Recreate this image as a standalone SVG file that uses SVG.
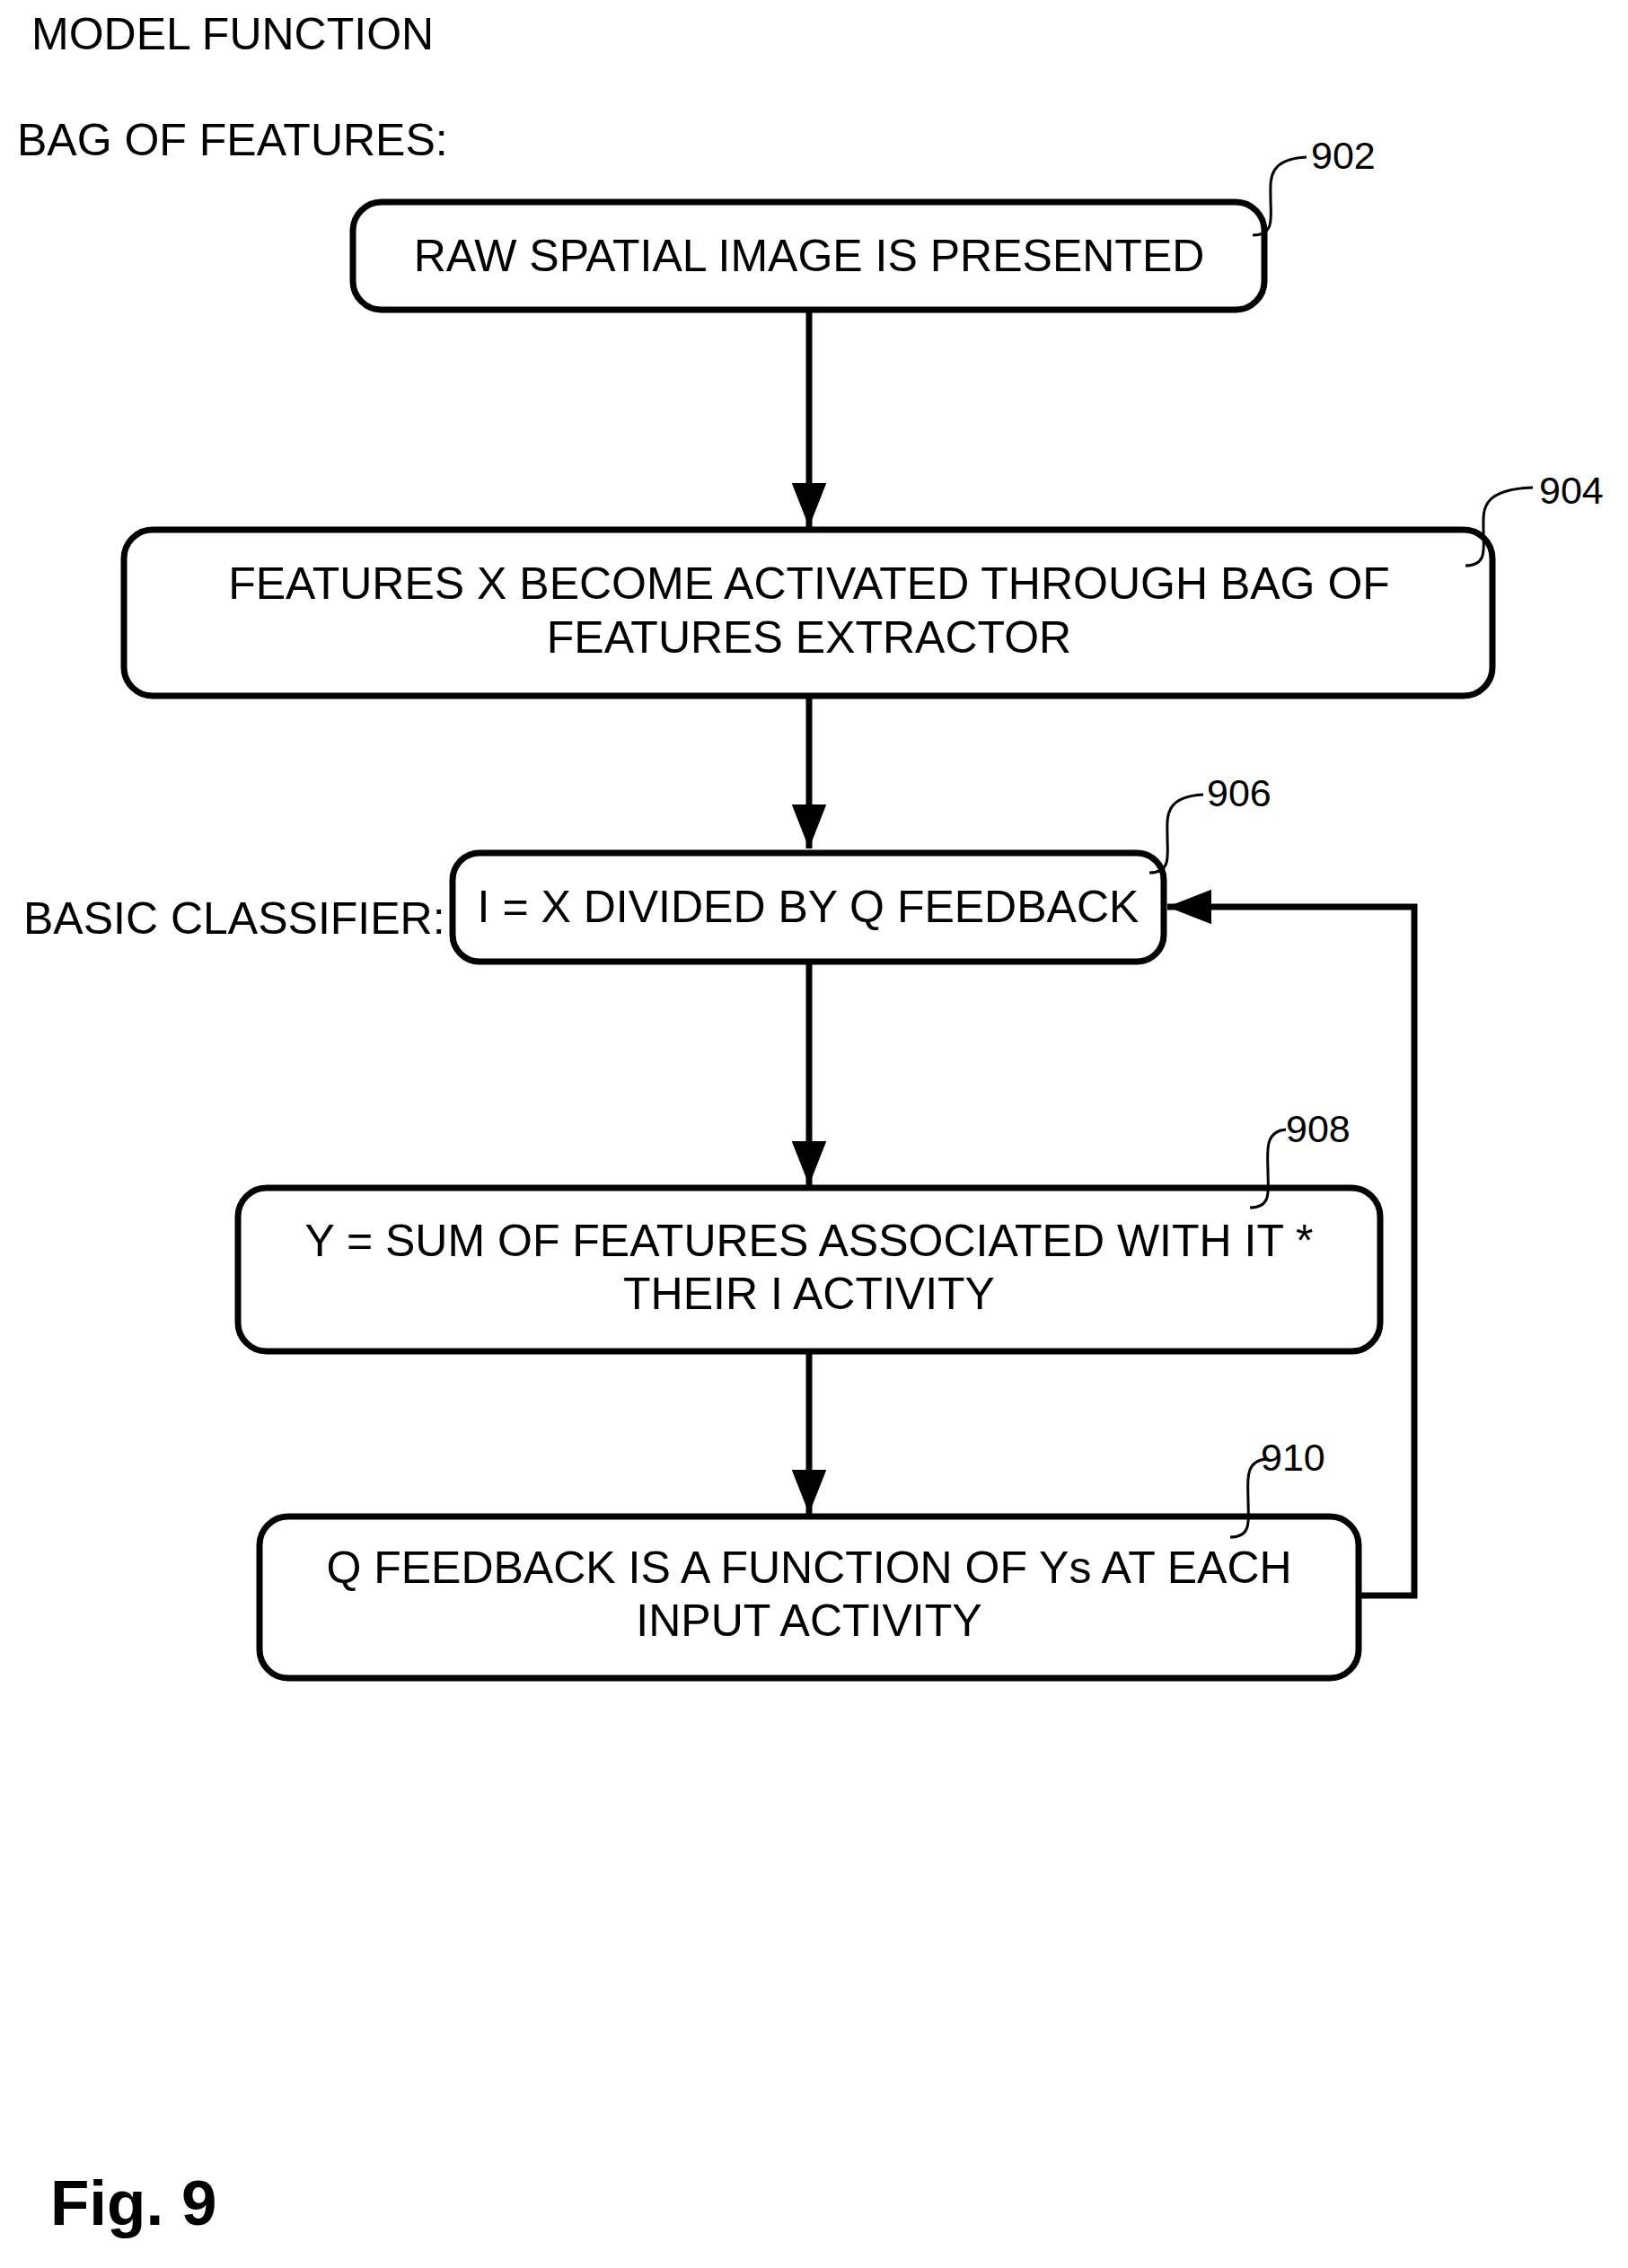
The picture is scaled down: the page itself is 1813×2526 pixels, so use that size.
<svg xmlns="http://www.w3.org/2000/svg" width="1813" height="2526" viewBox="0 0 1813 2526">
<style>
text{font-family:"Liberation Sans",Arial,sans-serif;fill:#000}
.t{font-size:50px;text-anchor:middle}
.h{font-size:50px}
.n{font-size:43px}
.b{fill:#fff;stroke:#000;stroke-width:7}
.c{fill:none;stroke:#000;stroke-width:7}
.l{fill:none;stroke:#000;stroke-width:3}
</style>
<defs><marker id="a" markerWidth="7" markerHeight="5.5" refX="7" refY="2.75" orient="auto" markerUnits="strokeWidth"><path d="M0,0L7,2.75L0,5.5z" fill="#000"/></marker></defs>
<rect width="1813" height="2526" fill="#fff"/>
<text class="h" x="35" y="55">MODEL FUNCTION</text>
<text class="h" x="19" y="173">BAG OF FEATURES:</text>
<text class="h" x="26" y="1040">BASIC CLASSIFIER:</text>
<text x="56" y="2478" style="font-size:71px;font-weight:bold">Fig. 9</text>
<g id="connectors">
<path class="c" d="M901,345V587" marker-end="url(#a)"/>
<path class="c" d="M901,775V945" marker-end="url(#a)"/>
<path class="c" d="M901,1071V1320" marker-end="url(#a)"/>
<path class="c" d="M901,1505V1686" marker-end="url(#a)"/>
<path class="c" d="M1513,1777H1575V1010H1300" marker-end="url(#a)"/>
</g>
<g id="n902"><rect class="b" x="393" y="225" width="1015" height="120" rx="32"/><text class="t" x="901" y="302">RAW SPATIAL IMAGE IS PRESENTED</text>
<path class="l" d="M1395,262c25,0,20,-20,20,-40s-5,-45,40,-47"/><text class="n" x="1460" y="188">902</text></g>
<g id="n904"><rect class="b" x="138" y="590" width="1524" height="185" rx="32"/><text class="t" x="901" y="667">FEATURES X BECOME ACTIVATED THROUGH BAG OF</text><text class="t" x="901" y="727">FEATURES EXTRACTOR</text>
<path class="l" d="M1632,630c25,0,20,-20,20,-40s-5,-45,55,-47"/><text class="n" x="1714" y="561">904</text></g>
<g id="n906"><rect class="b" x="504" y="950" width="792" height="121" rx="30"/><text class="t" x="900" y="1027">I = X DIVIDED BY Q FEEDBACK</text>
<path class="l" d="M1280,972c25,0,20,-20,20,-40s-5,-45,40,-47"/><text class="n" x="1344" y="898">906</text></g>
<g id="n908"><rect class="b" x="265" y="1323" width="1272" height="182" rx="32"/><text class="t" x="901" y="1399">Y = SUM OF FEATURES ASSOCIATED WITH IT *</text><text class="t" x="901" y="1458">THEIR I ACTIVITY</text>
<path class="l" d="M1392,1345c25,0,20,-20,20,-40s-5,-45,20,-47"/><text class="n" x="1432" y="1272">908</text></g>
<g id="n910"><rect class="b" x="289" y="1689" width="1224" height="180" rx="32"/><text class="t" x="901" y="1763">Q FEEDBACK IS A FUNCTION OF Ys AT EACH</text><text class="t" x="901" y="1822">INPUT ACTIVITY</text>
<path class="l" d="M1370,1712c25,0,20,-20,20,-40s-5,-45,20,-47"/><text class="n" x="1404" y="1638">910</text></g>
</svg>
